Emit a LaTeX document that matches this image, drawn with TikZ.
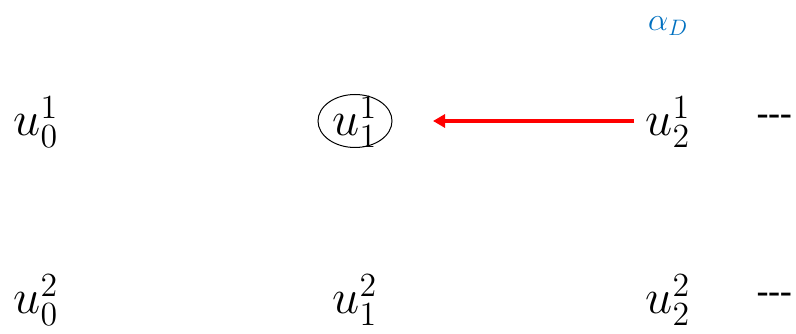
\documentclass[tikz,border=0pt]{standalone}
\usetikzlibrary{shapes.geometric,arrows.meta}
\definecolor{alphablue}{RGB}{0,112,192}
\definecolor{arrowred}{RGB}{255,0,0}
\begin{document}
\begin{tikzpicture}[x=1pt,y=1pt,
  var/.style={inner sep=0pt,font=\huge,scale=2.35},
  dots/.style={inner sep=0pt,font=\huge\bfseries,scale=1.5},
  circled/.style={ellipse,draw,line width=1pt,minimum width=74pt,minimum height=53pt,inner sep=0pt}]
\useasboundingbox (0,0) rectangle (796,334);
\node[var] (u01) at (36,212) {$u_0^1$};
\node[var] (u11) at (355,212) {$u_1^1$};
\node[circled] (c11) at (355,213) {};
\node[var] (u21) at (668,212) {$u_2^1$};
\node[dots] (d1) at (775,215) {-{}-{}-};
\node[inner sep=0pt,font=\huge,scale=1.55,text=alphablue] (alpha) at (668,308) {$\alpha_D$};
\node[var] (u02) at (36,34) {$u_0^2$};
\node[var] (u12) at (355,34) {$u_1^2$};
\node[var] (u22) at (668,34) {$u_2^2$};
\node[dots] (d2) at (775,37) {-{}-{}-};
\coordinate (atip) at (433,213);
\coordinate (astart) at (634,213);
\draw[arrowred,line width=3.5pt,-{Triangle[length=12pt,width=13pt]}] (astart) -- (atip);
\end{tikzpicture}
\end{document}
